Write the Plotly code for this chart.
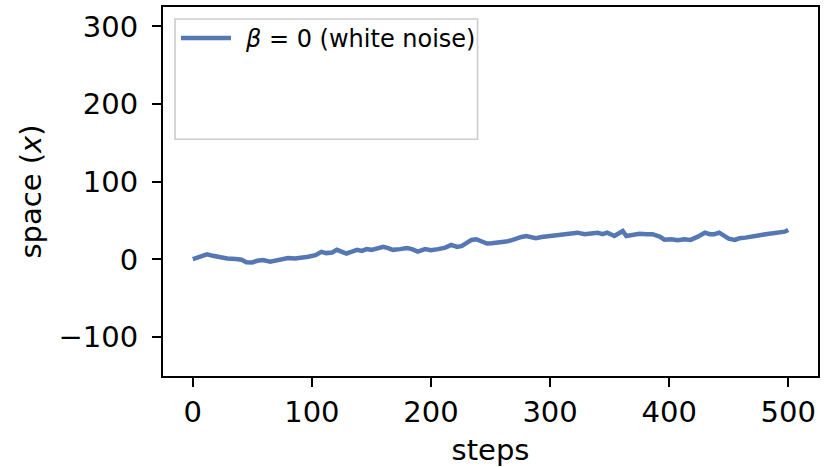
import plotly.graph_objects as go

# data
steps = [0, 5, 12, 17, 22, 29, 36, 41, 45, 50, 54, 59, 65, 71, 75, 80, 86, 92, 97,
         103, 108, 112, 117, 121, 125, 129, 133, 138, 142, 146, 150, 154, 160, 164,
         168, 174, 180, 184, 189, 195, 200, 206, 212, 217, 222, 226, 230, 234, 238,
         242, 247, 251, 255, 259, 263, 268, 272, 276, 280, 284, 288, 293, 298, 301,
         307, 312, 318, 323, 329, 335, 340, 344, 348, 354, 358, 361, 364, 370, 375,
         381, 386, 392, 396, 402, 407, 413, 418, 424, 430, 434, 438, 442, 446, 450,
         455, 459, 464, 470, 476, 481, 487, 492, 497, 500]
position = [0.5, 3.4, 6.5, 4.7, 3.0, 1.3, 0.5, -0.4, -3.5, -3.8, -1.7, -0.8, -2.8, -0.8,
            1.3, 1.8, 1.3, 2.2, 3.5, 5.6, 9.8, 8.2, 9.0, 12.4, 9.8, 7.7, 9.8, 12.4,
            11.0, 13.3, 12.4, 14.0, 16.2, 14.6, 12.4, 13.3, 14.6, 13.3, 10.2, 13.3,
            12.0, 13.3, 15.3, 18.8, 16.2, 17.5, 21.7, 25.2, 26.0, 23.0, 20.5, 21.0,
            21.7, 21.0, 23.0, 24.8, 27.3, 29.0, 30.3, 29.4, 27.3, 29.0, 29.9, 29.4,
            31.2, 31.6, 32.5, 34.5, 32.5, 33.8, 34.5, 32.5, 34.5, 30.3, 33.8, 36.7,
            30.3, 32.5, 33.0, 32.5, 32.5, 29.4, 25.5, 26.0, 24.8, 26.0, 25.2, 29.4,
            34.5, 32.5, 32.5, 34.5, 31.2, 26.9, 25.2, 27.3, 28.1, 30.3, 31.2, 32.5,
            33.8, 35.4, 35.8, 38.0]
series_name = "\u00a0\u200a<i>β</i> = 0 (white noise)"
x_ticks = [0, 100, 200, 300, 400, 500]
y_ticks = [-100, 0, 100, 200, 300]
y_tick_text = ["\u2212100", "0", "100", "200", "300"]

W, H = 825, 467
ML, MR, MT, MB = 163, 6, 5, 91
pw, ph = W - ML - MR, H - MT - MB

def px_x(p):
    return (p - ML) / pw

def px_y(p):
    return (H - MB - p) / ph

fig = go.Figure()
fig.add_trace(go.Scatter(
    x=steps, y=position, mode="lines", name=series_name,
    line=dict(color="#5577b4", width=4.5),
))

axis_common = dict(
    showline=True, linecolor="black", linewidth=2, mirror=True,
    ticks="outside", ticklen=9, tickwidth=2, tickcolor="black",
    showgrid=False, zeroline=False,
    tickfont=dict(family="DejaVu Sans", size=29, color="black"),
)

fig.update_layout(
    width=W, height=H,
    margin=dict(l=ML, r=MR, t=MT, b=MB),
    paper_bgcolor="white", plot_bgcolor="white",
    font=dict(family="DejaVu Sans", color="black"),
    xaxis=dict(range=[-25, 524.95], tickvals=x_ticks,
               title=dict(text="steps", font=dict(size=29), standoff=12),
               **axis_common),
    yaxis=dict(range=[-150, 325], tickvals=y_ticks, ticktext=y_tick_text,
               ticklabelstandoff=8,
               title=dict(text="space (<i>x</i>)", font=dict(size=29), standoff=8),
               **axis_common),
    showlegend=True,
    legend=dict(
        x=px_x(176), y=px_y(14), xanchor="left", yanchor="top",
        bgcolor="rgba(0,0,0,0)", borderwidth=0,
        font=dict(family="DejaVu Sans", size=24, color="black"),
        itemwidth=50,
    ),
    shapes=[dict(
        type="rect", xref="paper", yref="paper",
        x0=px_x(175), x1=px_x(478), y0=px_y(138), y1=px_y(17),
        line=dict(color="#cccccc", width=1.6), fillcolor="rgba(255,255,255,0.8)",
        layer="below",
    )],
)

fig.write_html("out.html")
